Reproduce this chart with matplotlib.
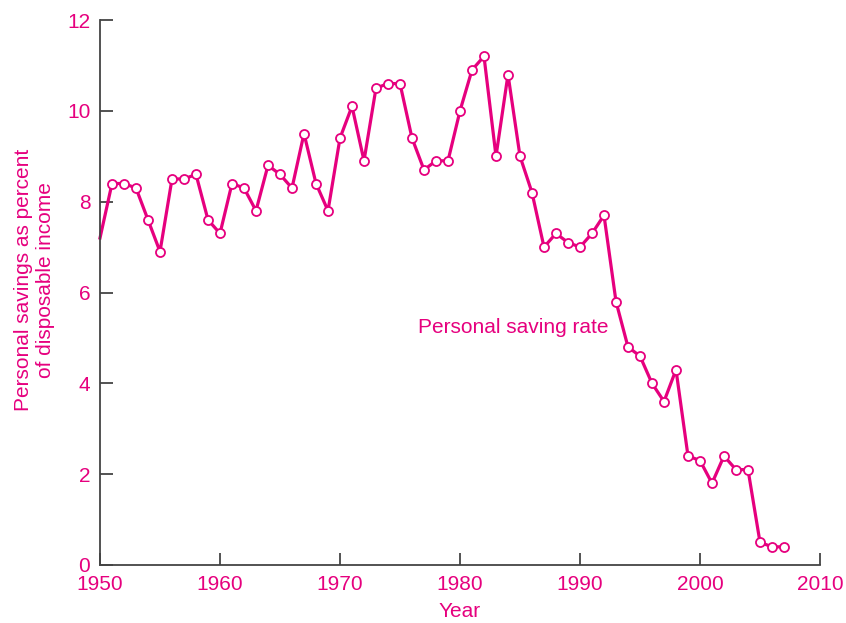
import numpy as np
import matplotlib
matplotlib.use("Agg")
from matplotlib import pyplot as plt

plt.rcParams['font.family'] = ['Liberation Sans', 'DejaVu Sans']

years = list(range(1950, 2008))
saving_rate = [7.2, 8.4, 8.4, 8.3, 7.6, 6.9, 8.5, 8.5, 8.6, 7.6,
               7.3, 8.4, 8.3, 7.8, 8.8, 8.6, 8.3, 9.5, 8.4, 7.8,
               9.4, 10.1, 8.9, 10.5, 10.6, 10.6, 9.4, 8.7, 8.9, 8.9,
               10.0, 10.9, 11.2, 9.0, 10.8, 9.0, 8.2, 7.0, 7.3, 7.1,
               7.0, 7.3, 7.7, 5.8, 4.8, 4.6, 4.0, 3.6, 4.3, 2.4,
               2.3, 1.8, 2.4, 2.1, 2.1, 0.5, 0.4, 0.4]
x_ticks = [1950, 1960, 1970, 1980, 1990, 2000, 2010]
y_ticks = [0, 2, 4, 6, 8, 10, 12]

pink = '#e6007e'
axis_col = '#444444'

fig = plt.figure(figsize=(8.46, 6.23), dpi=100)
ax = fig.add_axes([100 / 846, 1 - 565 / 623, 720 / 846, 545 / 623])

# no marker on the first point (it sits on the axis)
ax.plot(years, saving_rate, color=pink, lw=2.3, marker='o', ms=6.5,
        mfc='white', mec=pink, mew=1.3, markevery=range(1, len(years)),
        clip_on=False)

ax.set_xlim(1950, 2010)
ax.set_ylim(0, 12)
ax.set_xticks(x_ticks)
ax.set_yticks(y_ticks)

for side in ['top', 'right']:
    ax.spines[side].set_visible(False)
for side in ['left', 'bottom']:
    ax.spines[side].set_color(axis_col)
    ax.spines[side].set_linewidth(1.3)

ax.tick_params(direction='in', length=9, width=1.3, color=axis_col,
               labelcolor=pink, labelsize=15, pad=7)

ax.set_xlabel('Year', color=pink, fontsize=15, labelpad=6)
ax.set_ylabel('Personal savings as percent\nof disposable income',
              color=pink, fontsize=15)
ax.yaxis.set_label_coords(-0.062, 0.523)

ax.text(1976.5, 5.22, 'Personal saving rate', color=pink, fontsize=15,
        va='center', ha='left')

fig.savefig('out.png', dpi=100)
